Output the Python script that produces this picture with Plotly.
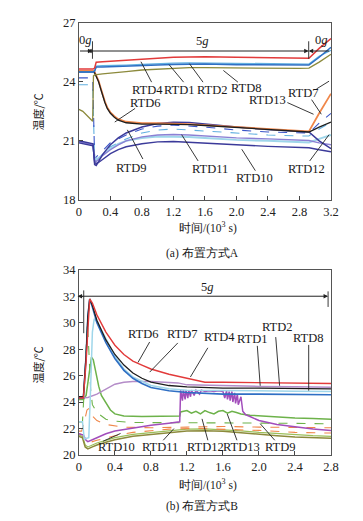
import plotly.graph_objects as go

W, H = 363, 521

# ---------------- (a) 布置方式A ----------------
A_X = [0, 0.18, 0.2, 0.22, 0.3, 0.4, 0.6, 0.8, 1.0, 1.2, 1.4, 1.6, 2.0, 2.4, 2.8, 2.92, 3.05, 3.2]
A_RTD4 = [24.65, 24.65, 24.7, 25.0, 25.02, 25.05, 25.1, 25.15, 25.2, 25.25, 25.28, 25.28, 25.25, 25.22, 25.18, 25.2, 25.7, 26.2]
A_RTD1 = [24.5, 24.5, 24.55, 24.75, 24.75, 24.76, 24.78, 24.8, 24.85, 24.88, 24.9, 24.9, 24.87, 24.85, 24.83, 24.85, 25.25, 25.75]
A_RTD2 = [24.5, 24.5, 24.55, 24.8, 24.82, 24.82, 24.85, 24.88, 24.92, 24.95, 24.96, 24.95, 24.92, 24.9, 24.88, 24.9, 25.3, 25.6]

A_X8 = [0, 0.05, 0.15, 0.175, 0.185, 0.2, 0.3, 0.4, 0.6, 0.8, 1.0, 1.2, 1.4, 1.6, 2.0, 2.4, 2.8, 2.92, 3.05, 3.2]
A_RTD8 = [22.6, 22.5, 22.1, 22.0, 24.3, 24.35, 24.4, 24.45, 24.52, 24.6, 24.65, 24.7, 24.72, 24.72, 24.7, 24.7, 24.68, 24.7, 25.0, 25.4]

A_X6 = [0, 0.18, 0.2, 0.22, 0.25, 0.28, 0.3, 0.33, 0.36, 0.4, 0.45, 0.5, 0.6, 0.7, 0.8, 1.0, 1.2, 1.4, 1.6, 2.0, 2.4, 2.8, 2.92, 3.05, 3.2]
A_RTD6 = [24.5, 24.5, 24.45, 24.3, 24.0, 23.6, 23.3, 22.95, 22.65, 22.4, 22.2, 22.05, 21.92, 21.88, 21.85, 21.85, 21.85, 21.83, 21.78, 21.68, 21.6, 21.5, 21.45, 21.7, 21.95]
A_RTD7 = [24.55, 24.55, 24.5, 24.35, 24.05, 23.65, 23.35, 23.0, 22.7, 22.45, 22.25, 22.1, 21.97, 21.92, 21.9, 21.9, 21.88, 21.85, 21.8, 21.7, 21.62, 21.52, 21.48, 22.4, 23.4]

A_X9 = [0, 0.18, 0.2, 0.22, 0.25, 0.3, 0.4, 0.5, 0.6, 0.8, 1.0, 1.2, 1.4, 1.6, 2.0, 2.4, 2.8, 2.92, 3.05, 3.2]
A_RTD9 = [21.0, 20.85, 19.8, 19.75, 19.95, 20.3, 20.8, 21.15, 21.4, 21.7, 21.88, 21.95, 21.93, 21.85, 21.7, 21.58, 21.5, 21.45, 21.0, 20.6]
A_RTD11 = [20.95, 20.8, 20.0, 19.95, 20.05, 20.25, 20.55, 20.8, 21.0, 21.2, 21.3, 21.32, 21.3, 21.25, 21.15, 21.1, 21.05, 21.02, 20.9, 20.8]
A_RTD12 = [20.95, 20.8, 20.1, 20.0, 20.1, 20.3, 20.6, 20.85, 21.0, 21.15, 21.22, 21.22, 21.2, 21.15, 21.05, 21.0, 20.95, 20.92, 21.1, 21.3]
A_RTD10 = [20.9, 20.75, 19.9, 19.85, 19.9, 20.05, 20.35, 20.55, 20.7, 20.85, 20.95, 20.97, 20.92, 20.88, 20.8, 20.72, 20.68, 20.65, 20.55, 20.45]

A_XD = [0, 0.165, 0.175, 0.2, 0.3, 0.4, 0.6, 0.8, 1.0, 1.2, 1.6, 2.0, 2.4, 2.8, 2.92, 3.05, 3.2]
A_RTD13 = [24.2, 24.2, 24.2, 20.1, 20.5, 20.9, 21.3, 21.6, 21.75, 21.8, 21.7, 21.55, 21.45, 21.4, 21.4, 21.9, 22.4]
A_RTD5 = [23.85, 23.85, 23.85, 20.0, 20.3, 20.7, 21.1, 21.4, 21.55, 21.6, 21.5, 21.4, 21.3, 21.25, 21.25, 21.6, 21.95]

# ---------------- (b) 布置方式B ----------------
B_X = [0, 0.05, 0.08, 0.1, 0.12, 0.15, 0.2, 0.3, 0.4, 0.5, 0.6, 0.7, 0.8, 1.0, 1.2, 1.4, 1.6, 2.0, 2.4, 2.8]
B_RTD4 = [24.3, 24.3, 27.0, 30.0, 31.8, 31.5, 30.6, 29.3, 28.3, 27.6, 27.1, 26.8, 26.5, 26.1, 25.8, 25.5, 25.5, 25.45, 25.4, 25.4]
B_RTD1 = [24.4, 24.4, 27.5, 30.5, 31.8, 31.3, 30.2, 28.7, 27.6, 26.8, 26.2, 25.8, 25.5, 25.25, 25.15, 25.1, 25.05, 25.05, 25.0, 25.0]
B_RTD8 = [24.3, 24.3, 27.5, 30.5, 31.8, 31.2, 30.0, 28.5, 27.3, 26.4, 25.8, 25.4, 25.1, 24.85, 24.72, 24.65, 24.6, 24.6, 24.55, 24.55]

B_X7 = [0, 0.04, 0.06, 0.11, 0.13, 0.15, 0.17, 0.2, 0.3, 0.4, 0.5, 0.6, 0.8, 1.0, 1.2, 1.4, 1.6, 2.0, 2.4, 2.8]
B_RTD7 = [22.5, 22.5, 21.2, 21.3, 25.0, 29.3, 30.3, 30.1, 28.8, 27.5, 26.5, 25.9, 25.25, 25.0, 24.9, 24.88, 24.85, 24.85, 24.82, 24.8]

B_XM = [0, 0.1, 0.2, 0.3, 0.4, 0.5, 0.6, 0.8, 1.0, 1.1, 1.2, 1.6, 2.0, 2.4, 2.8]
B_RTD3 = [24.3, 24.35, 24.6, 25.0, 25.35, 25.5, 25.55, 25.55, 25.5, 25.45, 25.3, 25.22, 25.18, 25.15, 25.12]

B_X9 = [0, 0.05, 0.08, 0.1, 0.2, 0.3, 0.4, 0.6, 0.8, 1.0, 1.12, 1.13, 1.15, 1.16, 1.18, 1.19, 1.21, 1.22, 1.24, 1.25,
        1.28, 1.3, 1.34, 1.36, 1.4, 1.45, 1.5, 1.55, 1.6, 1.62, 1.64, 1.65, 1.67, 1.68, 1.7, 1.71, 1.73, 1.74, 1.76, 1.77,
        1.8, 1.82, 1.85, 1.9, 2.0, 2.2, 2.4, 2.6, 2.8]
B_RTD9 = [21.6, 21.5, 21.1, 21.0, 21.3, 21.6, 21.8, 22.05, 22.25, 22.4, 22.5, 24.9, 24.1, 24.9, 24.2, 24.9, 24.3, 24.9, 24.4, 24.9,
          24.5, 24.9, 24.6, 24.9, 24.8, 24.85, 24.8, 24.85, 24.8, 24.3, 24.85, 24.2, 24.8, 24.1, 24.8, 24.0, 24.7, 23.9, 24.6, 23.8,
          24.4, 23.3, 23.05, 22.9, 22.6, 22.3, 22.1, 21.95, 21.85]

B_X13 = [0, 0.05, 0.08, 0.1, 0.12, 0.14, 0.16, 0.19, 0.22, 0.25, 0.29, 0.35, 0.4, 0.5, 0.7, 0.9, 1.12, 1.13, 1.2, 1.25,
         1.3, 1.35, 1.4, 1.45, 1.5, 1.55, 1.6, 1.65, 1.7, 1.75, 1.8, 1.9, 2.0, 2.2, 2.4, 2.6, 2.8]
B_RTD13 = [24.2, 24.2, 24.5, 25.5, 26.8, 27.4, 27.2, 26.2, 25.2, 24.5, 24.05, 23.4, 23.1, 22.95, 22.9, 22.9, 22.95, 23.25, 23.35, 23.15,
           23.3, 23.1, 23.35, 23.2, 23.1, 23.3, 23.35, 23.15, 23.3, 23.2, 23.1, 23.0, 22.95, 22.9, 22.8, 22.75, 22.7]

B_XG = [0, 0.04, 0.06, 0.08, 0.095, 0.11, 0.13, 0.15, 0.2, 0.3, 0.4, 0.6, 1.0, 1.4, 1.8, 2.2, 2.8]
B_RTD12 = [22.5, 22.5, 25.0, 28.5, 30.0, 28.0, 25.0, 23.8, 23.2, 22.7, 22.55, 22.45, 22.45, 22.45, 22.4, 22.4, 22.35]

B_XO = [0, 0.03, 0.06, 0.09, 0.11, 0.14, 0.2, 0.3, 0.5, 0.8, 1.2, 1.6, 2.0, 2.4, 2.8]
B_RTD11 = [21.8, 21.8, 22.5, 23.4, 23.5, 23.0, 22.6, 22.3, 22.1, 22.05, 22.1, 22.15, 22.1, 22.1, 22.05]

B_XL = [0, 0.05, 0.08, 0.1, 0.2, 0.4, 0.6, 0.8, 1.0, 1.3, 1.6, 2.0, 2.4, 2.8]
B_RTD5 = [21.6, 21.5, 21.0, 20.9, 21.1, 21.45, 21.7, 21.85, 21.95, 22.0, 21.95, 21.85, 21.7, 21.65]

B_X10 = [0, 0.04, 0.07, 0.1, 0.15, 0.2, 0.3, 0.4, 0.6, 0.8, 1.0, 1.2, 1.4, 1.6, 1.8, 2.0, 2.2, 2.4, 2.6, 2.8]
B_RTD10 = [21.4, 21.3, 20.6, 20.45, 20.6, 20.75, 20.95, 21.15, 21.4, 21.55, 21.7, 21.8, 21.82, 21.78, 21.68, 21.55, 21.45, 21.35, 21.3, 21.25]
B_RTD10b = [21.5, 21.4, 20.75, 20.6, 20.75, 20.9, 21.1, 21.3, 21.55, 21.7, 21.85, 21.95, 21.97, 21.92, 21.82, 21.7, 21.6, 21.5, 21.45, 21.4]

A_TICKS = [0, 0.4, 0.8, 1.2, 1.6, 2.0, 2.4, 2.8, 3.2]
A_TICKTEXT = ["0", "0.4", "0.8", "1.2", "1.6", "2.0", "2.4", "2.8", "3.2"]
B_TICKS = [0, 0.4, 0.8, 1.2, 1.6, 2.0, 2.4, 2.8]
B_TICKTEXT = ["0", "0.4", "0.8", "1.2", "1.6", "2.0", "2.4", "2.8"]

# ---------------- colours ----------------
RED = "#e23a3a"
BLUE = "#2f6fc4"
LBLUE = "#62b0e0"
OLIVE = "#8c8a3c"
BLACK = "#1e1e1e"
ORANGE = "#f0874a"
NAVY = "#3b3a9a"
LAV = "#8b80d4"
CYAN = "#9fd6ea"
GREEN = "#6db24a"
PURPLE = "#a24dbb"
MAUVE = "#b48cc8"
DBLUE = "#3a55c8"

fig = go.Figure()

def add(x, y, color, ax=1, width=1.4, dash=None):
    fig.add_trace(go.Scatter(
        x=x, y=y, mode="lines",
        line=dict(color=color, width=width, dash=dash),
        xaxis="x" if ax == 1 else "x2", yaxis="y" if ax == 1 else "y2",
        showlegend=False, hoverinfo="skip"))

# (a)
add(A_XD, A_RTD5, LBLUE, 1, 1.1, "dash")
add(A_XD, A_RTD13, DBLUE, 1, 1.1, "dash")
add(A_X9, A_RTD12, CYAN, 1, 2.0)
add(A_X9, A_RTD11, LAV, 1, 1.4)
add(A_X9, A_RTD10, NAVY, 1, 1.4)
add(A_X9, A_RTD9, NAVY, 1, 1.5)
add(A_X6, A_RTD7, ORANGE, 1, 1.8)
add(A_X6, A_RTD6, BLACK, 1, 1.3)
add(A_X8, A_RTD8, OLIVE, 1, 1.3)
add(A_X, A_RTD2, LBLUE, 1, 1.4)
add(A_X, A_RTD1, BLUE, 1, 1.5)
add(A_X, A_RTD4, RED, 1, 1.5)

# (b)
add(B_X10, B_RTD10b, "#9bbf5a", 2, 1.2)
add(B_X10, B_RTD10, OLIVE, 2, 1.5)
add(B_XL, B_RTD5, ORANGE, 2, 1.1, "dash")
add(B_XO, B_RTD11, ORANGE, 2, 1.1, "dash")
add(B_XG, B_RTD12, GREEN, 2, 1.1, "dash")
add(B_X13, B_RTD13, GREEN, 2, 1.5)
add(B_X9, B_RTD9, PURPLE, 2, 1.5)
add(B_XM, B_RTD3, MAUVE, 2, 1.5)
add(B_X7, B_RTD7, CYAN, 2, 1.5)
add(B_X, B_RTD8, BLUE, 2, 1.6)
add(B_X, B_RTD1, BLACK, 2, 1.3)
add(B_X, B_RTD4, RED, 2, 1.4)

def px(x):
    return x / W

def py(y):
    return 1 - y / H

SERIF = "'Liberation Serif', 'Times New Roman', serif"
CJK = "'Noto Sans CJK SC', sans-serif"
AX = dict(showgrid=False, zeroline=False, showline=True, mirror=True,
          linecolor="#555", linewidth=1, ticks="inside", ticklen=4,
          tickcolor="#444", tickfont=dict(family=SERIF, size=12.5, color="#222"))

fig.update_layout(
    width=W, height=H, margin=dict(l=0, r=0, t=0, b=0),
    paper_bgcolor="white", plot_bgcolor="white",
    font=dict(family=SERIF),
    xaxis=dict(domain=[px(70), px(330)], range=[0, 3.2], tickvals=A_TICKS, ticktext=A_TICKTEXT,
               anchor="y", **AX),
    yaxis=dict(domain=[py(190), py(8)], range=[18, 27], dtick=3, anchor="x", **AX),
    xaxis2=dict(domain=[px(70), px(330)], range=[0, 2.8], tickvals=B_TICKS, ticktext=B_TICKTEXT,
                anchor="y2", **AX),
    yaxis2=dict(domain=[py(452), py(262)], range=[20, 34], dtick=2, anchor="x2", **AX),
)

ann = []
shapes = []

def text(x, y, s, size=12.5, fam=SERIF, angle=0):
    ann.append(dict(x=px(x), y=py(y), xref="paper", yref="paper", text=s, showarrow=False,
                    font=dict(family=fam, size=size, color="#1a1a1a"), textangle=angle,
                    xanchor="center", yanchor="middle"))

def seg(x0, y0, x1, y1, w=0.9, color="#222"):
    shapes.append(dict(type="line", xref="paper", yref="paper",
                       x0=px(x0), y0=py(y0), x1=px(x1), y1=py(y1),
                       line=dict(color=color, width=w)))

def arrow(x0, y0, x1, y1, side="end"):
    # arrow drawn from (x0,y0) to (x1,y1), pixel coords
    ann.append(dict(x=px(x1), y=py(y1), ax=x0 - x1, ay=y0 - y1, xref="paper", yref="paper",
                    axref="pixel", ayref="pixel", text="", showarrow=True, arrowhead=2,
                    arrowsize=0.9, arrowwidth=1, arrowcolor="#222", arrowside=side, standoff=0,
                    startstandoff=0))

# axis titles and captions
text(28, 100, "温度/℃", 11, CJK, -90)
text(203, 218, "时间/(10<sup>3</sup> s)", 11.5, SERIF)
text(197, 245, "(a) 布置方式A", 11.5, SERIF)
text(28, 360, "温度/℃", 11, CJK, -90)
text(203, 482, "时间/(10<sup>3</sup> s)", 11.5, SERIF)
text(197, 505, "(b) 布置方式B", 11.5, SERIF)

# (a) g-phase marks
text(77, 26, "0<i>g</i>")
text(197, 27, "5<i>g</i>")
text(320, 26, "0<i>g</i>")
seg(84, 27, 84, 45)
seg(307, 27, 307, 45)
arrow(70, 37, 84, 37, "end")
arrow(84, 37, 307, 37, "end+start")
arrow(329, 37, 307, 37, "end")

# (a) labels
text(141, 77, "RTD4"); seg(145, 69, 134, 48)
text(174, 77, "RTD1"); seg(178, 69, 163, 51)
text(208, 77, "RTD2"); seg(198, 69, 184, 50)
text(243, 75, "RTD8"); seg(234, 69, 219, 57)
text(139, 90, "RTD6"); seg(128, 96, 107, 110)
text(302, 80, "RTD7"); seg(315, 76, 328, 68); seg(310, 87, 320, 102)
text(264, 87, "RTD13"); seg(285, 90, 312, 102)
text(124, 157, "RTD9"); seg(136, 148, 120, 118)
text(205, 158, "RTD11"); seg(193, 150, 176, 123)
text(251, 168, "RTD10"); seg(252, 160, 238, 138)
text(305, 158, "RTD12"); seg(308, 150, 328, 123)

# (b) g-phase marks
text(203, 280, "5<i>g</i>")
seg(75, 283, 75, 327)
seg(327, 284, 327, 300)
arrow(75, 289, 327, 289, "end+start")

# (b) labels
text(137, 328, "RTD6"); seg(143, 336, 131, 357)
text(177, 328, "RTD7"); seg(172, 337, 143, 367)
text(215, 331, "RTD4"); seg(203, 342, 185, 372)
text(249, 333, "RTD1"); seg(254, 340, 257, 381)
text(275, 321, "RTD2"); seg(273, 331, 277, 381)
text(307, 332, "RTD8"); seg(307, 339, 307, 386)
text(109, 444, "RTD10"); seg(95, 438, 113, 430)
text(154, 444, "RTD11"); seg(157, 437, 168, 425)
text(201, 444, "RTD12"); seg(203, 437, 197, 415)
text(238, 444, "RTD13"); seg(233, 437, 223, 410)
text(278, 444, "RTD9"); seg(272, 437, 257, 420)

fig.update_layout(annotations=ann, shapes=shapes)
fig.write_html("out.html")
